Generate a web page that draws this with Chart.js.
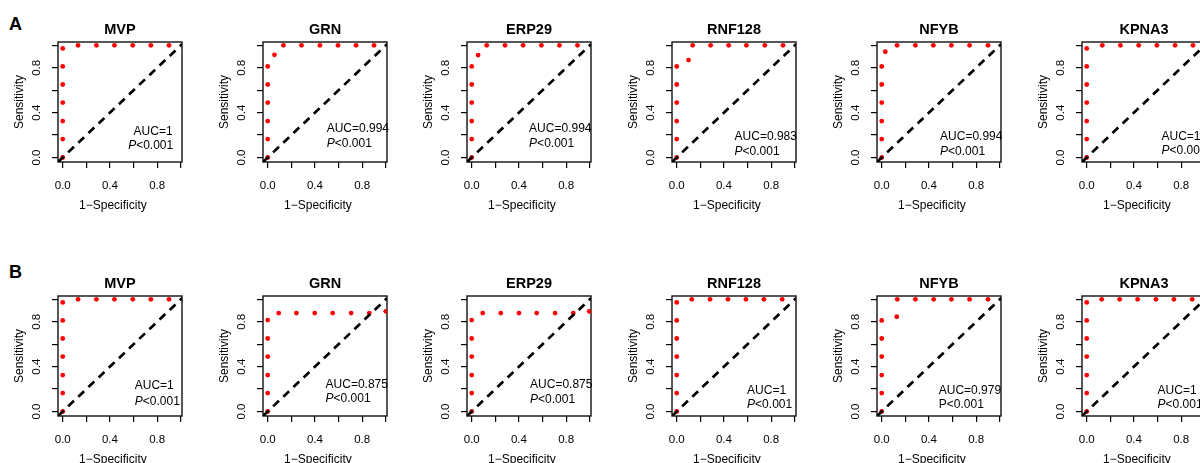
<!DOCTYPE html>
<html>
<head>
<meta charset="utf-8">
<script src="https://cdn.jsdelivr.net/npm/chart.js@4.4.1/dist/chart.umd.min.js"></script>
<style>
  html, body { margin: 0; padding: 0; background: #fff; }
  #wrap { position: relative; width: 1200px; height: 463px; overflow: hidden; }
  canvas { position: absolute; }
  .tag { position: absolute; font: bold 18px/18px "Liberation Sans", Arial, sans-serif; color: #000; }
</style>
</head>
<body>
<div id="wrap">
  <div class="tag" style="left:9px; top:15px;">A</div>
  <div class="tag" style="left:9px; top:263px;">B</div>
</div>
<script>
const genes = ['MVP', 'GRN', 'ERP29', 'RNF128', 'NFYB', 'KPNA3'];
const tickValues = [0, 0.2, 0.4, 0.6, 0.8, 1.0];
const tickLabels = ['0.0', '', '0.4', '', '0.8', ''];
const xRange = [-0.04, 1.01];
const yRange = [-0.04, 1.03];

// row A  (x = 1-specificity, y = sensitivity)
const fprA_MVP = [0, 0, 0, 0, 0, 0, 0, 0.13, 0.285, 0.438, 0.593, 0.746, 0.90];
const tprA_MVP = [0, 0.164, 0.325, 0.49, 0.651, 0.812, 0.973, 1, 1, 1, 1, 1, 1];
const fprA_GRN = [0, 0, 0, 0, 0, 0, 0.057, 0.133, 0.286, 0.442, 0.595, 0.748, 0.90];
const tprA_GRN = [0, 0.164, 0.325, 0.49, 0.651, 0.812, 0.916, 1, 1, 1, 1, 1, 1];
const fprA_ERP29 = [0, 0, 0, 0, 0, 0, 0.054, 0.127, 0.282, 0.435, 0.59, 0.743, 0.895];
const tprA_ERP29 = [0, 0.164, 0.325, 0.49, 0.651, 0.812, 0.913, 1, 1, 1, 1, 1, 1];
const fprA_RNF128 = [0, 0, 0, 0, 0, 0, 0.10, 0.135, 0.287, 0.44, 0.59, 0.746, 0.90];
const tprA_RNF128 = [0, 0.164, 0.325, 0.49, 0.651, 0.812, 0.869, 1, 1, 1, 1, 1, 1];
const fprA_NFYB = [0, 0, 0, 0, 0, 0, 0.03, 0.13, 0.285, 0.437, 0.59, 0.744, 0.90];
const tprA_NFYB = [0, 0.164, 0.325, 0.49, 0.651, 0.812, 0.943, 1, 1, 1, 1, 1, 1];
const fprA_KPNA3 = [0, 0, 0, 0, 0, 0, 0, 0.132, 0.285, 0.44, 0.594, 0.748, 0.90];
const tprA_KPNA3 = [0, 0.164, 0.325, 0.49, 0.651, 0.812, 0.973, 1, 1, 1, 1, 1, 1];

// row B
const fprB_MVP = [0, 0, 0, 0, 0, 0, 0, 0.13, 0.285, 0.438, 0.593, 0.746, 0.90];
const tprB_MVP = [0, 0.164, 0.325, 0.49, 0.651, 0.812, 0.973, 1, 1, 1, 1, 1, 1];
const fprB_GRN = [0, 0, 0, 0, 0, 0, 0.093, 0.243, 0.398, 0.55, 0.706, 0.86, 1.0];
const tprB_GRN = [0, 0.164, 0.325, 0.49, 0.651, 0.815, 0.878, 0.878, 0.878, 0.878, 0.878, 0.878, 0.893];
const fprB_ERP29 = [0, 0, 0, 0, 0, 0, 0.093, 0.246, 0.40, 0.55, 0.706, 0.86, 0.995];
const tprB_ERP29 = [0, 0.164, 0.325, 0.49, 0.651, 0.815, 0.878, 0.878, 0.878, 0.878, 0.878, 0.878, 0.893];
const fprB_RNF128 = [0, 0, 0, 0, 0, 0, 0, 0.127, 0.282, 0.434, 0.586, 0.738, 0.893];
const tprB_RNF128 = [0, 0.164, 0.325, 0.49, 0.651, 0.812, 0.973, 1, 1, 1, 1, 1, 1];
const fprB_NFYB = [0, 0, 0, 0, 0, 0, 0.127, 0.132, 0.285, 0.44, 0.59, 0.744, 0.90];
const tprB_NFYB = [0, 0.164, 0.325, 0.49, 0.651, 0.812, 0.845, 1, 1, 1, 1, 1, 1];
const fprB_KPNA3 = [0, 0, 0, 0, 0, 0, 0, 0.127, 0.279, 0.431, 0.586, 0.738, 0.893];
const tprB_KPNA3 = [0, 0.164, 0.325, 0.49, 0.651, 0.812, 0.973, 1, 1, 1, 1, 1, 1];

const aucA = ['AUC=1', 'AUC=0.994', 'AUC=0.994', 'AUC=0.983', 'AUC=0.994', 'AUC=1'];
const aucB = ['AUC=1', 'AUC=0.875', 'AUC=0.875', 'AUC=1', 'AUC=0.979', 'AUC=1'];
const pText = 'P<0.001';
const pItalicA = [true, true, true, true, true, true];
const pItalicB = [true, true, true, true, false, true];

// where the AUC / P lines sit, in data units: [aucX, aucY, pX, pY]
const notePosA = [[0.60, 0.233, 0.554, 0.107], [0.499, 0.259, 0.50, 0.127], [0.486, 0.26, 0.486, 0.127],
                  [0.49, 0.188, 0.49, 0.055], [0.494, 0.187, 0.494, 0.055], [0.633, 0.187, 0.633, 0.058]];
const notePosB = [[0.61, 0.226, 0.61, 0.092], [0.49, 0.239, 0.49, 0.112], [0.494, 0.235, 0.494, 0.106],
                  [0.596, 0.186, 0.596, 0.058], [0.483, 0.186, 0.483, 0.058], [0.60, 0.186, 0.60, 0.058]];

const rowA = [[fprA_MVP, tprA_MVP], [fprA_GRN, tprA_GRN], [fprA_ERP29, tprA_ERP29],
              [fprA_RNF128, tprA_RNF128], [fprA_NFYB, tprA_NFYB], [fprA_KPNA3, tprA_KPNA3]];
const rowB = [[fprB_MVP, tprB_MVP], [fprB_GRN, tprB_GRN], [fprB_ERP29, tprB_ERP29],
              [fprB_RNF128, tprB_RNF128], [fprB_NFYB, tprB_NFYB], [fprB_KPNA3, tprB_KPNA3]];

const FONT = '"Liberation Sans", Arial, sans-serif';
Chart.defaults.font.family = FONT;
Chart.defaults.color = '#000';

// box around plot region, AUC/P notes and x label
const panelText = {
  id: 'panelText',
  beforeDatasetsDraw(chart) {
    const {ctx, chartArea: a} = chart;
    ctx.save();
    ctx.strokeStyle = '#111';
    ctx.lineWidth = 1.4;
    ctx.strokeRect(a.left, a.top, a.width, a.height);
    ctx.restore();
  },
  afterDatasetsDraw(chart, args, opts) {
    const {ctx, chartArea: a, scales: {x, y}} = chart;
    const pos = opts.pos;
    ctx.save();
    ctx.fillStyle = '#000';
    ctx.textBaseline = 'middle';
    ctx.textAlign = 'left';
    ctx.font = '12px ' + FONT;
    ctx.fillText(opts.auc, x.getPixelForValue(pos[0]), y.getPixelForValue(pos[1]));
    let px = x.getPixelForValue(pos[2]);
    const py = y.getPixelForValue(pos[3]);
    ctx.font = (opts.italic ? 'italic ' : '') + '12px ' + FONT;
    ctx.fillText(pText[0], px, py);
    px += ctx.measureText(pText[0]).width;
    ctx.font = '12px ' + FONT;
    ctx.fillText(pText.slice(1), px, py);
    ctx.textAlign = 'center';
    ctx.fillText('1\u2212Specificity', x.getPixelForValue(0.425), a.bottom + 44);
    ctx.restore();
  }
};

const wrap = document.getElementById('wrap');
const W = 205, H = 232;

function makePanel(col, rowTop, pts, auc, italic, pos) {
  const cv = document.createElement('canvas');
  cv.width = W; cv.height = H;
  cv.style.left = Math.round(col * 204.7) + 'px';
  cv.style.top = rowTop + 'px';
  wrap.appendChild(cv);

  const [fpr, tpr] = pts;
  const axisCommon = {
    type: 'linear',
    afterBuildTicks: s => { s.ticks = tickValues.map(v => ({value: v})); },
    grid: { display: true, drawOnChartArea: false, drawTicks: true, tickLength: 6, color: '#000', lineWidth: 1.2 },
    border: { display: false }
  };

  new Chart(cv, {
    type: 'scatter',
    data: {
      datasets: [
        {
          data: xRange.map(v => ({x: v, y: v})),
          showLine: true,
          borderColor: '#000',
          borderWidth: 2.7,
          borderDash: [8, 6],
          pointRadius: 0,
          order: 0
        },
        {
          data: fpr.map((v, i) => ({x: v, y: tpr[i]})),
          backgroundColor: '#ff0000',
          borderWidth: 0,
          pointRadius: 2.4,
          order: 1
        }
      ]
    },
    options: {
      responsive: false,
      animation: false,
      layout: { padding: { left: 0, top: 0, right: 23, bottom: 0 } },
      scales: {
        x: Object.assign({}, axisCommon, {
          min: xRange[0], max: xRange[1],
          afterFit: s => { s.height = 70; },
          ticks: { autoSkip: false, maxRotation: 0, padding: 10.5, font: { size: 11.5 },
                   callback: (v, i) => tickLabels[i] }
        }),
        y: Object.assign({}, axisCommon, {
          min: yRange[0], max: yRange[1],
          afterFit: s => { s.width = 58; },
          ticks: { autoSkip: false, minRotation: 90, maxRotation: 90, crossAlign: 'center', padding: 7,
                   font: { size: 11.5 }, callback: (v, i) => tickLabels[i] },
          title: { display: true, text: 'Sensitivity', font: { size: 12 }, padding: { top: 12.8, bottom: 0 } }
        })
      },
      plugins: {
        legend: { display: false },
        tooltip: { enabled: false },
        title: { display: true, text: genes[col], fullSize: false, color: '#000',
                 font: { size: 14.5, weight: 'bold' }, padding: { top: 21, bottom: 3.6 } },
        panelText: { auc: auc, italic: italic, pos: pos }
      }
    },
    plugins: [panelText]
  });
}

for (let i = 0; i < genes.length; i++) {
  makePanel(i, 0, rowA[i], aucA[i], pItalicA[i], notePosA[i]);
  makePanel(i, 254, rowB[i], aucB[i], pItalicB[i], notePosB[i]);
}
</script>
</body>
</html>
